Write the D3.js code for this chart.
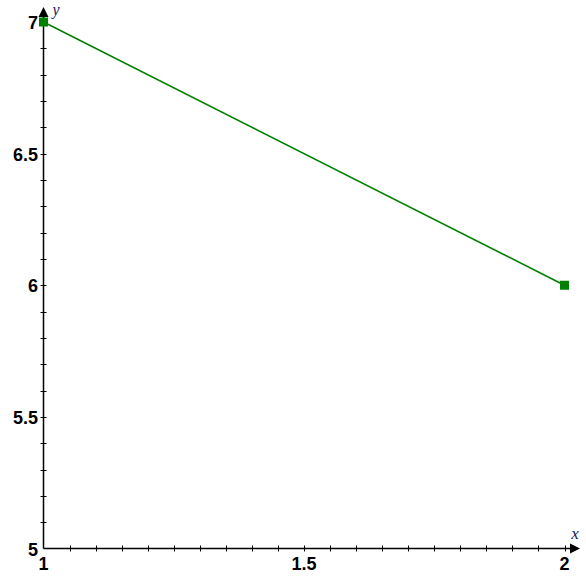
<!DOCTYPE html>
<html>
<head>
<meta charset="utf-8">
<script src="https://cdn.jsdelivr.net/npm/d3@7"></script>
<style>
  body { margin: 0; background: #fff; }
  svg text { font-family: "Liberation Sans", Arial, sans-serif; }
</style>
</head>
<body>
<div id="chart"></div>
<script>
var width = 586;
var height = 587;

// data
var xValues = [1, 2];
var yValues = [7, 6];
var xTickLabels = [1, 1.5, 2];
var yTickLabels = [5, 5.5, 6, 6.5, 7];
var xMinorStep = 0.05;
var yMinorStep = 0.1;

var x = d3.scaleLinear().domain([1, 2]).range([43.5, 564.5]);
var y = d3.scaleLinear().domain([5, 7]).range([548.5, 22]);

var svg = d3.select("#chart")
  .append("svg")
  .attr("width", width)
  .attr("height", height);

var x0 = x(1), y0 = y(5);

// minor ticks
var xMinor = d3.range(1 + xMinorStep, 2 + 1e-9, xMinorStep);
var yMinor = d3.range(5 + yMinorStep, 7 + 1e-9, yMinorStep);

svg.selectAll(".xtick")
  .data(xMinor)
  .enter()
  .append("line")
  .attr("x1", function(d) { return Math.round(x(d)) + 0.5; })
  .attr("x2", function(d) { return Math.round(x(d)) + 0.5; })
  .attr("y1", y0 - 3)
  .attr("y2", y0 + 3)
  .attr("stroke", "#000");

svg.selectAll(".ytick")
  .data(yMinor)
  .enter()
  .append("line")
  .attr("y1", function(d) { return Math.round(y(d)) + 0.5; })
  .attr("y2", function(d) { return Math.round(y(d)) + 0.5; })
  .attr("x1", x0 - 3)
  .attr("x2", x0 + 3)
  .attr("stroke", "#000");

// axes lines
svg.append("line")
  .attr("x1", x0).attr("x2", 574)
  .attr("y1", y0).attr("y2", y0)
  .attr("stroke", "#000").attr("stroke-width", 1.5);

svg.append("line")
  .attr("x1", x0).attr("x2", x0)
  .attr("y1", y0).attr("y2", 12)
  .attr("stroke", "#000").attr("stroke-width", 1.5);

// arrowheads
svg.append("path")
  .attr("d", "M570," + (y0 - 5) + "L580," + y0 + "L570," + (y0 + 5) + "Z")
  .attr("fill", "#000");
svg.append("path")
  .attr("d", "M" + (x0 - 5) + ",17L" + x0 + ",7L" + (x0 + 5) + ",17Z")
  .attr("fill", "#000");

// tick labels
svg.selectAll(".xlab")
  .data(xTickLabels)
  .enter()
  .append("text")
  .attr("x", function(d) { return x(d); })
  .attr("y", 570)
  .attr("text-anchor", "middle")
  .attr("font-size", 18)
  .attr("font-weight", "bold")
  .text(function(d) { return d; });

svg.selectAll(".ylab")
  .data(yTickLabels)
  .enter()
  .append("text")
  .attr("x", 38)
  .attr("y", function(d) { return y(d) + 7; })
  .attr("text-anchor", "end")
  .attr("font-size", 18)
  .attr("font-weight", "bold")
  .text(function(d) { return d; });

// axis titles
svg.append("text")
  .attr("x", 575).attr("y", 539)
  .attr("text-anchor", "middle")
  .style("font-family", "'Liberation Serif', serif")
  .attr("font-style", "italic")
  .attr("font-size", 17)
  .attr("fill", "#102060")
  .text("x");

svg.append("text")
  .attr("x", 56).attr("y", 15)
  .attr("text-anchor", "middle")
  .style("font-family", "'Liberation Serif', serif")
  .attr("font-style", "italic")
  .attr("font-size", 16)
  .attr("fill", "#102060")
  .text("y");

// the line
var line = d3.line()
  .x(function(d, i) { return x(xValues[i]); })
  .y(function(d) { return y(d); });

svg.append("path")
  .datum(yValues)
  .attr("d", line)
  .attr("fill", "none")
  .attr("stroke", "#008000")
  .attr("stroke-width", 1.6);

// point markers
svg.selectAll(".pt")
  .data(yValues)
  .enter()
  .append("rect")
  .attr("x", function(d, i) { return x(xValues[i]) - 4.5; })
  .attr("y", function(d) { return y(d) - 4.5; })
  .attr("width", 9)
  .attr("height", 9)
  .attr("fill", "#008000");
</script>
</body>
</html>
